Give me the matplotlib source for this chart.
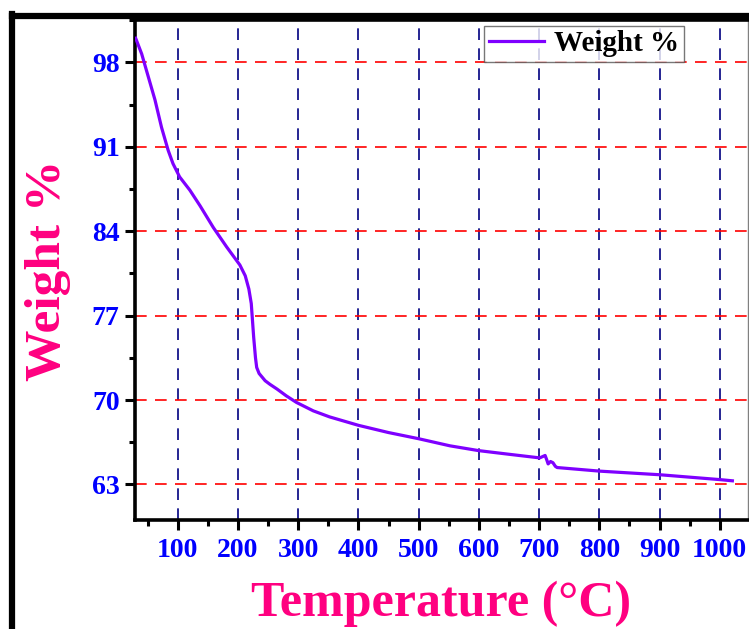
import matplotlib
matplotlib.use('Agg')
import matplotlib.pyplot as plt
from matplotlib.lines import Line2D
from matplotlib.ticker import MultipleLocator

plt.rcParams['font.family'] = ['Liberation Serif', 'DejaVu Serif']
plt.rcParams['font.weight'] = 'bold'

# TGA curve
temperature = [30, 40, 51, 62, 73, 84, 92, 103, 120, 137, 159, 181, 203, 212, 218, 222,
               226, 229, 231, 235, 245, 253, 265, 280, 297, 325, 352, 400, 450, 499,
               552, 600, 650, 701, 710, 713, 715, 719, 723, 727, 730, 801, 901, 1000, 1021]
weight = [100.0, 98.7, 96.8, 94.9, 92.6, 90.7, 89.6, 88.5, 87.4, 86.1, 84.3, 82.7, 81.2,
          80.3, 79.2, 78.0, 75.2, 73.5, 72.7, 72.2, 71.6, 71.3, 70.9, 70.35, 69.8, 69.1,
          68.6, 67.9, 67.3, 66.8, 66.2, 65.8, 65.5, 65.2, 65.4, 65.0, 64.7, 64.9, 64.8,
          64.5, 64.4, 64.1, 63.8, 63.4, 63.3]

xticks = [100, 200, 300, 400, 500, 600, 700, 800, 900, 1000]
yticks = [63, 70, 77, 84, 91, 98]

fig = plt.figure(figsize=(7.49, 6.29), dpi=100)
ax = fig.add_axes([0.180, 0.1733, 0.8187, 0.7947])

ax.plot(temperature, weight, color='#7f00ff', lw=2.3, label='Weight %', zorder=3,
        solid_joinstyle='round')

ax.set_xlim(28.6, 1047)
ax.set_ylim(60.05, 101.5)
ax.set_xticks(xticks)
ax.set_yticks(yticks)
ax.xaxis.set_minor_locator(MultipleLocator(50))
ax.yaxis.set_minor_locator(MultipleLocator(3.5))

# grid: navy verticals, red horizontals
for xv in xticks:
    ax.axvline(xv, color='#000080', lw=1.2, ls=(0, (7, 5)), zorder=1)
for yv in yticks:
    ax.axhline(yv, color='#ff0000', lw=1.2, ls=(0, (7, 5)), zorder=1)

ax.tick_params(which='major', direction='out', length=7, width=2.2,
               labelsize=20, labelcolor='#0000ff')
ax.tick_params(which='minor', direction='out', length=4, width=2.2)
ax.tick_params(axis='x', which='major', pad=6)
ax.tick_params(axis='y', which='major', pad=4)
for lab in ax.get_xticklabels() + ax.get_yticklabels():
    lab.set_fontweight('bold')

for side in ['left', 'bottom', 'top']:
    ax.spines[side].set_linewidth(2.6)
    ax.spines[side].set_color('black')
ax.spines['right'].set_linewidth(1.0)
ax.spines['right'].set_color('#808080')

ax.set_xlabel('Temperature (°C)', fontsize=36, fontweight='bold', color='#ff0080', labelpad=13)
ax.set_ylabel('Weight %', fontsize=37, fontweight='bold', color='#ff0080', labelpad=15)

leg = ax.legend(loc='upper right', bbox_to_anchor=(0.905, 1.0), fontsize=21,
                frameon=True, fancybox=False, handlelength=1.9, borderpad=0.15,
                handletextpad=0.35, borderaxespad=0.2)
leg.get_frame().set_edgecolor('#555555')
leg.get_frame().set_linewidth(1.0)
for t in leg.get_texts():
    t.set_fontweight('bold')

# heavy black frame on left and top edges of the figure
fig.add_artist(Line2D([12 / 749, 12 / 749], [0, 1 - 14 / 629], transform=fig.transFigure,
                      color='black', lw=4.5, solid_capstyle='projecting'))
fig.add_artist(Line2D([12 / 749, 1], [1 - 16 / 629, 1 - 16 / 629], transform=fig.transFigure,
                      color='black', lw=4.5, solid_capstyle='projecting'))

fig.savefig('out.png', dpi=100)
